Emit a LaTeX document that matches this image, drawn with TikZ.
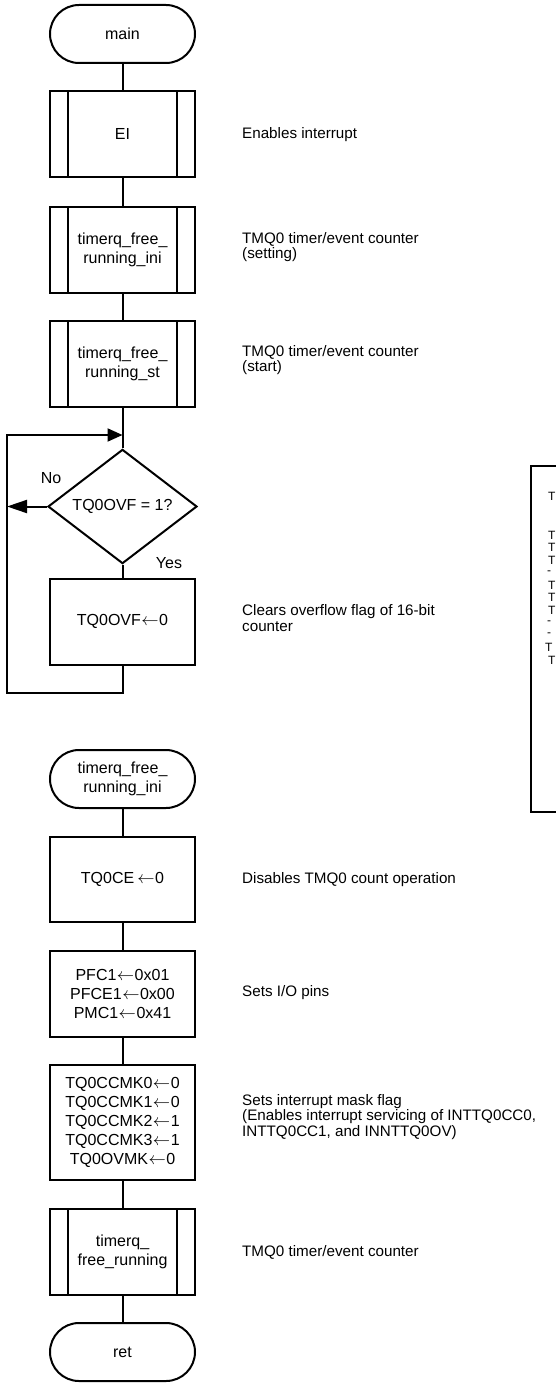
\documentclass[tikz,border=0pt]{standalone}
\usepackage{fontspec}
\setmainfont{Liberation Sans}
\usetikzlibrary{shapes.misc,shapes.geometric,arrows.meta}

% assignment arrow used inside the process boxes
\newcommand{\asg}{\kern0.5pt$\leftarrow$\kern0.5pt}

\begin{document}
\begin{tikzpicture}[x=1pt,y=-1pt,
  every node/.style={font=\fontsize{16}{19}\selectfont},
  flow/.style={line width=2pt},
  term/.style={draw, line width=2pt, rounded rectangle, minimum width=145pt,
    minimum height=58pt, inner sep=0pt, align=center},
  proc/.style={draw, line width=2pt, rectangle, minimum width=145pt,
    minimum height=86pt, inner sep=0pt, align=center},
  subr/.style={proc, path picture={
    \draw[line width=2pt]
      ([xshift=18pt]path picture bounding box.north west) --
      ([xshift=18pt]path picture bounding box.south west);
    \draw[line width=2pt]
      ([xshift=-18pt]path picture bounding box.north east) --
      ([xshift=-18pt]path picture bounding box.south east);}},
  dec/.style={draw, line width=2pt, diamond, minimum width=149pt,
    minimum height=85pt, inner sep=0pt},
  note/.style={anchor=west, align=left, inner sep=0pt,
    font=\fontsize{15.2}{15.2}\selectfont},
  tiny/.style={anchor=west, inner sep=0pt, font=\fontsize{12}{12}\selectfont}]

\useasboundingbox (0,0) rectangle (556,1383);

% ---- main routine ----
\node[term] (main) at (122.5,34) {main};
\node[subr] (ei) at (122.5,134) {EI};
\node[subr] (ini) at (122.5,249.5) {timerq\_free\_\\running\_ini};
\node[subr] (st) at (122.5,364) {timerq\_free\_\\running\_st};
\node[dec] (dec) at (122.5,506.5) {TQ0OVF = 1?};
\node[proc] (ovf) at (122.5,621.5) {TQ0OVF\asg 0};

\draw[flow] (main) -- (ei);
\draw[flow] (ei) -- (ini);
\draw[flow] (ini) -- (st);
\draw[flow] (st) -- (dec);
\draw[flow] (dec) -- (ovf);

% polling loop
\coordinate (jn) at (122.5,435);
\coordinate (lt) at (7,435);
\coordinate (lm) at (7,506.5);
\coordinate (lb) at (7,693);
\draw[flow, -{Triangle[length=20pt,width=13pt]}] (dec.west) -- (lm);
\draw[flow, -{Triangle[length=15pt,width=13pt]}]
  (ovf.south) -- (ovf.south |- lb) -- (lb) -- (lt) -- (jn);

\node (no) at (51,478) {No};
\node (yes) at (169,563) {Yes};

% ---- initialisation routine ----
\node[term] (tini) at (122.5,779) {timerq\_free\_\\running\_ini};
\node[proc, minimum height=85pt] (ce) at (122.5,879.5) {TQ0CE\,\asg 0};
\node[proc] (pfc) at (122.5,994) {PFC1\asg 0x01\\PFCE1\asg 0x00\\PMC1\asg 0x41};
\node[proc, minimum height=115pt] (mk) at (122.5,1122.5)
  {TQ0CCMK0\asg 0\\TQ0CCMK1\asg 0\\TQ0CCMK2\asg 1\\TQ0CCMK3\asg 1\\TQ0OVMK\asg 0};
\node[subr] (fr) at (122.5,1252) {timerq\_\\free\_running};
\node[term] (ret) at (122.5,1352) {ret};

\draw[flow] (tini) -- (ce);
\draw[flow] (ce) -- (pfc);
\draw[flow] (pfc) -- (mk);
\draw[flow] (mk) -- (fr);
\draw[flow] (fr) -- (ret);

% ---- comments ----
\node[note] (n1) at (242,135) {Enables interrupt};
\node[note] (n2) at (242,247) {TMQ0 timer/event counter\\(setting)};
\node[note] (n3) at (242,360) {TMQ0 timer/event counter\\(start)};
\node[note] (n4) at (242,618) {Clears overflow flag of 16-bit\\counter};
\node[note] (n5) at (242,880) {Disables TMQ0 count operation};
\node[note] (n6) at (242,993) {Sets I/O pins};
\node[note] (n7) at (242,1117) {Sets interrupt mask flag\\(Enables interrupt servicing of INTTQ0CC0,\\INTTQ0CC1, and INNTTQ0OV)};
\node[note] (n8) at (242,1252) {TMQ0 timer/event counter};

% ---- register panel at the right edge ----
\begin{scope}
  \clip (0,0) rectangle (556,1383);
  \draw[line width=2pt] (531,466) rectangle (640,812);
  \node[tiny] (r1) at (548,496) {T};
  \node[tiny] (r2) at (548,535) {T};
  \node[tiny] (r3) at (548,547.5) {T};
  \node[tiny] (r4) at (548,560) {T};
  \node[tiny] (r5) at (547,572.5) {-};
  \node[tiny] (r6) at (548,585) {T};
  \node[tiny] (r7) at (548,597.5) {T};
  \node[tiny] (r8) at (548,610) {T};
  \node[tiny] (r9) at (547,622.5) {-};
  \node[tiny] (r10) at (547,635) {-};
  \node[tiny] (r11) at (545,647.5) {T};
  \node[tiny] (r12) at (548,660) {T};
\end{scope}
\end{tikzpicture}
\end{document}
